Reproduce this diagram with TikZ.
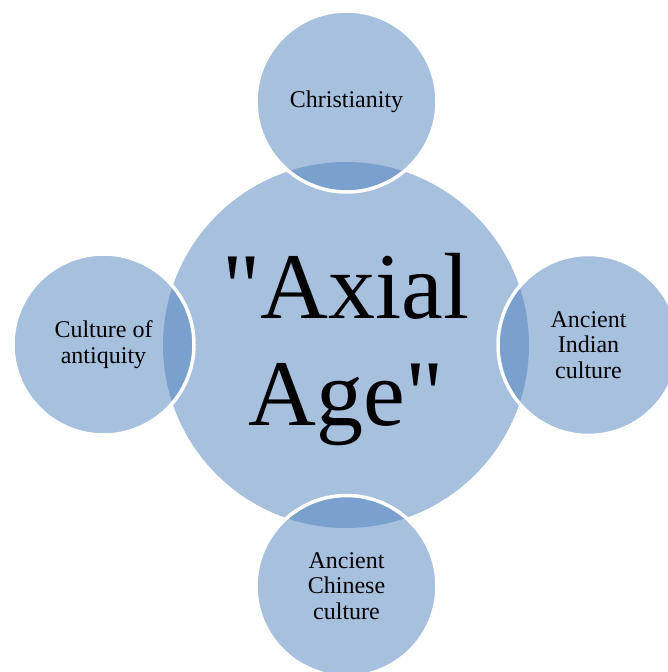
\documentclass[tikz,border=0pt]{standalone}
\usepackage{fontspec}
\setmainfont{Liberation Serif}[Ligatures=TeXOff]
\usepackage{tikz}
\definecolor{axialblue}{HTML}{4F81BD}
\tikzset{
	hub/.style={circle, fill=axialblue, fill opacity=0.5, minimum size=366pt, inner sep=0pt},
	hubtext/.style={align=center, font=\fontsize{94}{107}\selectfont},
	bubble/.style={circle, fill=axialblue, fill opacity=0.5, text opacity=1, draw=white, line width=3.5pt,
		minimum size=181pt, inner sep=0pt, align=center, font=\fontsize{24}{25.5}\selectfont}
}

\begin{document}
\begin{tikzpicture}[x=1pt, y=-1pt]
					\useasboundingbox (0,0) rectangle (668,672);
					%\draw [help lines] (0,0) grid (668,672);
					\node [hub] (hub) at (346,345) {};
					\node [hubtext] (axial) at (346,350) {"Axial\\Age"};
					%Cerchi esterni
					\node [bubble] (top) at (346.5,101.5) {Christianity};
					\node [bubble] (left) at (103.5,344.5) {Culture of\\antiquity};
					\node [bubble] (right) at (588.5,345) {Ancient\\Indian\\culture};
					\node [bubble] (bottom) at (346.5,586) {Ancient\\Chinese\\culture};
		\end{tikzpicture}
\end{document}
